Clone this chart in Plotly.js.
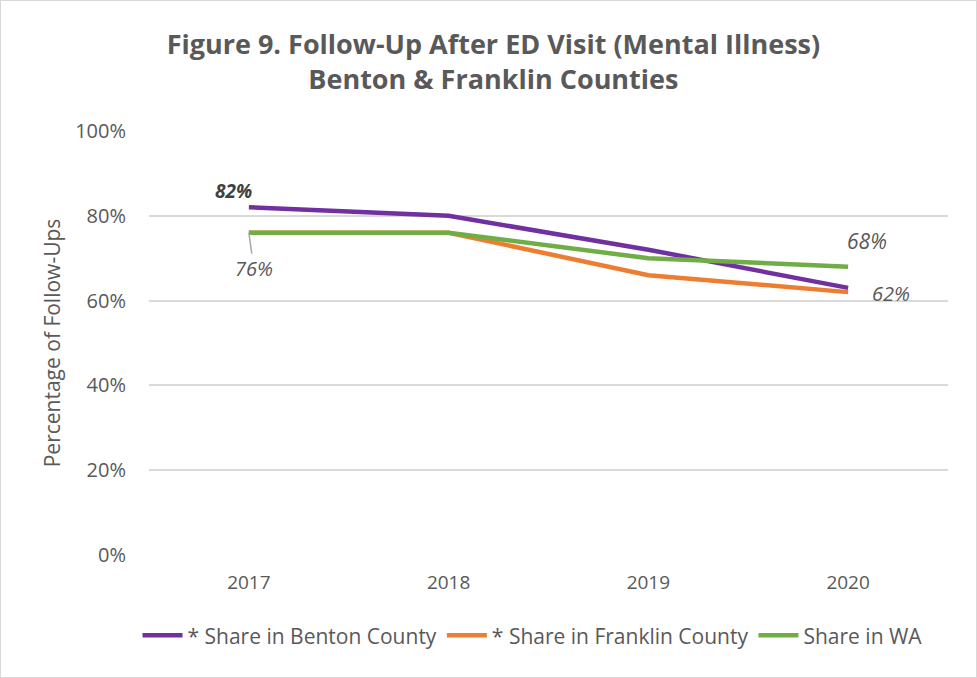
<!DOCTYPE html>
<html><head><meta charset="utf-8">
<script src="https://cdn.plot.ly/plotly-3.0.1.min.js"></script>
<style>html,body{margin:0;padding:0;background:#fff}#c{width:977px;height:678px;box-sizing:border-box;border:1px solid #d9d9d9}</style>
</head><body><div id="c"></div>
<script>
const years = ['2017','2018','2019','2020'];
const benton = [82, 80, 72, 63];
const franklin = [76, 76, 66, 62];
const wa = [76, 76, 70, 68];
const seriesNames = ['* Share in Benton County', '* Share in Franklin County', 'Share in WA'];
const colors = ['#7030A0', '#ED7D31', '#70AD47'];
const font = 'Open Sans, Noto Sans, sans-serif';
const txt = '#595959';

const traces = [benton, franklin, wa].map((v, i) => ({
  x: years, y: v, type: 'scatter', mode: 'lines', name: seriesNames[i],
  line: {color: colors[i], width: 4.5}
}));

const layout = {
  width: 975, height: 676,
  margin: {l: 148, r: 28, t: 130, b: 122},
  paper_bgcolor: '#fff', plot_bgcolor: '#fff',
  font: {family: font, color: txt},
  title: {text: '<b>Figure 9. Follow-Up After ED Visit (Mental Illness)<br>Benton & Franklin Counties</b>',
    x: 0.505, xanchor: 'center', y: 0.922, yanchor: 'middle', font: {size: 27, color: txt, family: font}},
  xaxis: {type: 'category', range: [-0.5, 3.5], showgrid: false, zeroline: false, showline: false,
    ticks: '', tickfont: {size: 19, color: txt}, ticklabelstandoff: 14},
  yaxis: {range: [0, 100], dtick: 20, ticksuffix: '%', gridcolor: '#d9d9d9', gridwidth: 1.5,
    zeroline: false, showline: false, tickfont: {size: 20, color: txt}, ticklabelstandoff: 22,
    title: {text: 'Percentage of Follow-Ups', font: {size: 21, color: txt}, standoff: 8}},
  legend: {orientation: 'h', x: 0.48, xanchor: 'center', y: -0.142, yanchor: 'top',
    font: {size: 21, color: txt}, itemwidth: 40, tracegroupgap: 0},
  showlegend: true,
  annotations: [
    {x: 0, y: benton[0], text: '<b><i>' + benton[0] + '%</i></b>', showarrow: false,
      xanchor: 'right', yanchor: 'bottom', xshift: 5, yshift: 1, font: {size: 19, color: '#404040'}},
    {x: 0, y: wa[0], text: '<i>' + wa[0] + '%</i>', showarrow: true, arrowhead: 0,
      arrowcolor: '#a6a6a6', arrowwidth: 1.5, ax: 5, ay: 36, font: {size: 20, color: txt}},
    {x: 3, y: wa[3], text: '<i>' + wa[3] + '%</i>', showarrow: false,
      xanchor: 'left', yanchor: 'bottom', xshift: -3, yshift: 10, font: {size: 21, color: txt}},
    {x: 3, y: franklin[3], text: '<i>' + franklin[3] + '%</i>', showarrow: false,
      xanchor: 'left', yanchor: 'middle', xshift: 22, yshift: -1, font: {size: 20, color: txt}}
  ]
};
Plotly.newPlot('c', traces, layout, {displayModeBar: false});
</script></body></html>
